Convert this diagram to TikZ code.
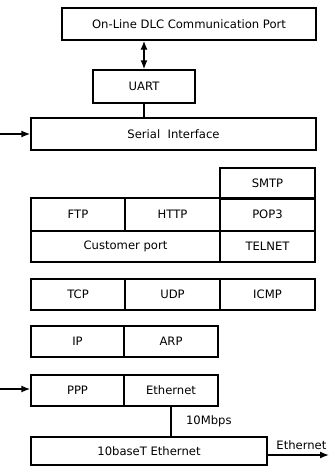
\documentclass[tikz,border=0pt]{standalone}
\usepackage{fontspec}
\setmainfont{DejaVu Sans}
\usetikzlibrary{arrows.meta}

\begin{document}
\begin{tikzpicture}[x=1pt,y=-1pt,
  lbl/.style={font=\fontsize{11.6}{13}\selectfont},
  cell/.style={draw, line width=1.4pt, inner sep=0pt, minimum height=31pt, lbl},
  link/.style={line width=1.4pt},
  feed/.style={line width=1.4pt, -{Latex[length=9pt,width=7pt]}}]
 \useasboundingbox (0,0) rectangle (329,471);
 % serial side
 \node[cell, minimum width=254pt, minimum height=32pt] (dlc) at (189,24) {On-Line DLC Communication Port};
 \node[cell, minimum width=102pt, minimum height=33pt] (uart) at (144,86.5) {UART};
 \node[cell, minimum width=285pt, minimum height=32pt] (serial) at (173.5,134) {Serial\ \ Interface};
 \draw[link, {Latex[length=9pt,width=7pt]}-{Latex[length=9pt,width=7pt]}] (uart.north) -- (uart.north |- dlc.south);
 \draw[link] (uart) -- (uart |- serial.north);
 \coordinate (in1) at (0,134);
 \draw[feed] (in1) -- (serial.west);
 % application layer
 \node[cell, minimum width=95pt] (smtp) at (267.5,183.5) {SMTP};
 \node[cell, minimum width=94pt, minimum height=33pt] (ftp) at (78,214.5) {FTP};
 \node[cell, minimum width=95pt, minimum height=33pt] (http) at (172.5,214.5) {HTTP};
 \node[cell, minimum width=95pt, minimum height=33pt] (pop) at (267.5,214.5) {POP3};
 \node[cell, minimum width=189pt] (cport) at (125.5,246.5) {Customer port};
 \node[cell, minimum width=95pt] (telnet) at (267.5,246.5) {TELNET};
 % transport layer
 \node[cell, minimum width=94pt] (tcp) at (78,294.5) {TCP};
 \node[cell, minimum width=95pt] (udp) at (172.5,294.5) {UDP};
 \node[cell, minimum width=95pt] (icmp) at (267.5,294.5) {ICMP};
 % network and link layers
 \node[cell, minimum width=93pt] (ip) at (77.5,341.5) {IP};
 \node[cell, minimum width=94pt] (arp) at (171,341.5) {ARP};
 \node[cell, minimum width=93pt] (ppp) at (77.5,390.5) {PPP};
 \node[cell, minimum width=94pt] (eth) at (171,390.5) {Ethernet};
 \node[cell, minimum width=236pt, minimum height=28pt] (base) at (149,451) {10baseT Ethernet};
 \coordinate (in2) at (0,389);
 \draw[feed] (in2) -- (in2 -| ppp.west);
 \draw[link] (eth.south) -- node[right=11pt, lbl] {10Mbps} (eth.south |- base.north);
 \coordinate (out) at (329,455);
 \draw[feed] (out -| base.east) -- node[above=1pt, pos=0.55, lbl] {Ethernet} (out);
\end{tikzpicture}
\end{document}
